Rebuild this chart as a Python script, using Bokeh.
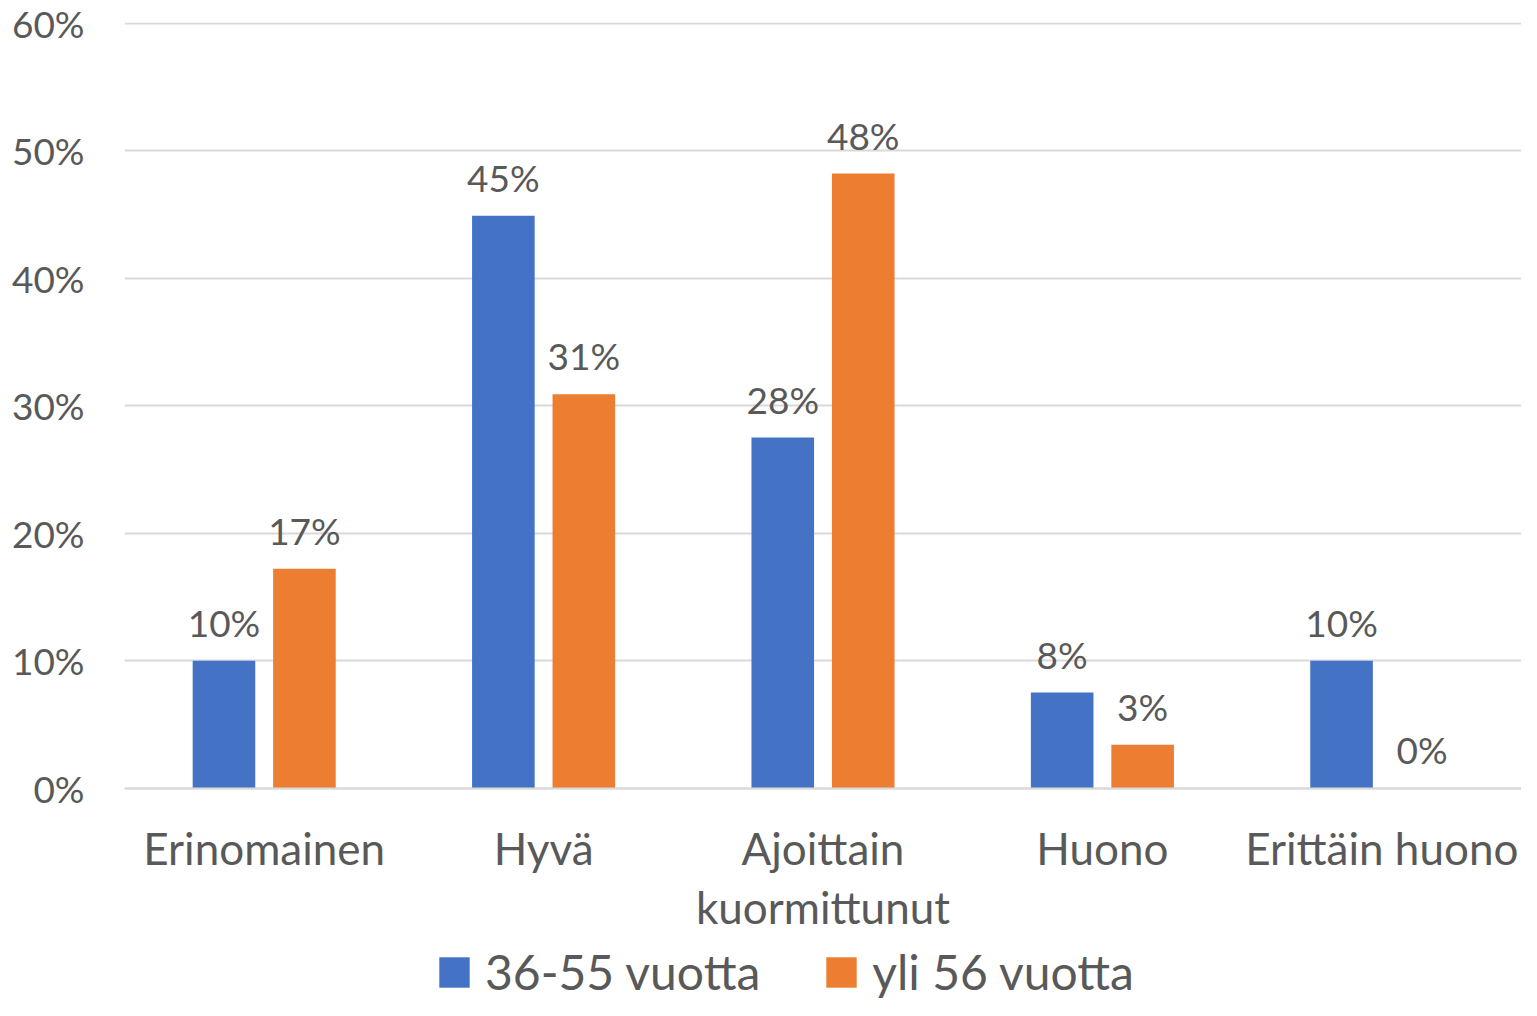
from bokeh.plotting import figure
from bokeh.models import ColumnDataSource, FactorRange, Range1d, Legend, LegendItem, PrintfTickFormatter, FixedTicker
from bokeh.transform import dodge
from bokeh.core.properties import value
from bokeh.embed import file_html
from bokeh.resources import INLINE

categories = ["Erinomainen", "Hyvä", "Ajoittain\nkuormittunut", "Huono", "Erittäin huono"]
series_names = ["36-55 vuotta", "yli 56 vuotta"]
values_36_55 = [10.0, 44.9, 27.5, 7.5, 10.0]
values_yli_56 = [17.2, 30.9, 48.2, 3.4, 0.0]
y_ticks = [0, 10, 20, 30, 40, 50, 60]

BLUE = "#4472C4"
ORANGE = "#ED7D31"
TEXT = "#595959"
GRID = "#D9D9D9"
FONT = "Lato"

H = 1000
TOP = 22
PX_PER_UNIT = 12.75
Y_END = 60.05
Y_START = Y_END - (H - TOP) / PX_PER_UNIT


def lab(vs):
    return [f"{int(v + 0.5)}%" for v in vs]


src = ColumnDataSource(dict(
    cat=categories,
    a=values_36_55,
    b=values_yli_56,
    la=lab(values_36_55),
    lb=lab(values_yli_56),
))

p = figure(
    width=1521, height=H,
    x_range=FactorRange(*categories, range_padding=0),
    y_range=Range1d(Y_START, Y_END),
    output_backend="svg", toolbar_location=None,
    min_border_left=124, min_border_right=0, min_border_top=TOP, min_border_bottom=0,
)
p.outline_line_color = None
p.background_fill_color = "white"
p.border_fill_color = "white"

off = 0.144
bw = 0.224
ra = p.vbar(x=dodge("cat", -off, range=p.x_range), top="a", bottom=0, width=bw, source=src,
            fill_color=BLUE, line_color=None)
rb = p.vbar(x=dodge("cat", off, range=p.x_range), top="b", bottom=0, width=bw, source=src,
            fill_color=ORANGE, line_color=None)

p.text(x=dodge("cat", -off, range=p.x_range), y="a", text="la", source=src,
       text_align="center", text_baseline="bottom", y_offset=-16,
       text_font=value(FONT), text_font_size="37px", text_color=TEXT)
p.text(x=dodge("cat", off, range=p.x_range), y="b", text="lb", source=src,
       text_align="center", text_baseline="bottom", y_offset=-16,
       text_font=value(FONT), text_font_size="37px", text_color=TEXT)

# axes
p.yaxis.ticker = FixedTicker(ticks=y_ticks)
p.yaxis.formatter = PrintfTickFormatter(format="%d%%")
p.yaxis.axis_line_color = None
p.yaxis.major_tick_line_color = None
p.yaxis.minor_tick_line_color = None
p.yaxis.major_label_standoff = 34
p.yaxis.major_label_text_font = FONT
p.yaxis.major_label_text_font_size = "37px"
p.yaxis.major_label_text_color = TEXT

p.xaxis.fixed_location = 0
p.xaxis.axis_line_color = GRID
p.xaxis.axis_line_width = 2
p.xaxis.major_tick_line_color = None
p.xaxis.minor_tick_line_color = None
p.xaxis.major_label_standoff = 28
p.xaxis.major_label_text_font = FONT
p.xaxis.major_label_text_font_size = "44px"
p.xaxis.major_label_text_color = TEXT
p.xaxis.major_label_text_line_height = 1.13

p.xgrid.grid_line_color = None
p.ygrid.grid_line_color = GRID
p.ygrid.grid_line_width = 2
p.ygrid.ticker = FixedTicker(ticks=y_ticks)

legend = Legend(
    items=[LegendItem(label=series_names[0], renderers=[ra]),
           LegendItem(label=series_names[1], renderers=[rb])],
    orientation="horizontal",
    location=(311, 0),
    glyph_width=38, glyph_height=38,
    label_standoff=12, spacing=62, padding=0, margin=0,
    label_text_font=FONT, label_text_font_size="48px", label_text_color=TEXT,
    border_line_color=None, background_fill_alpha=0,
)
p.add_layout(legend)

open("out.html", "w").write(file_html(p, INLINE))
